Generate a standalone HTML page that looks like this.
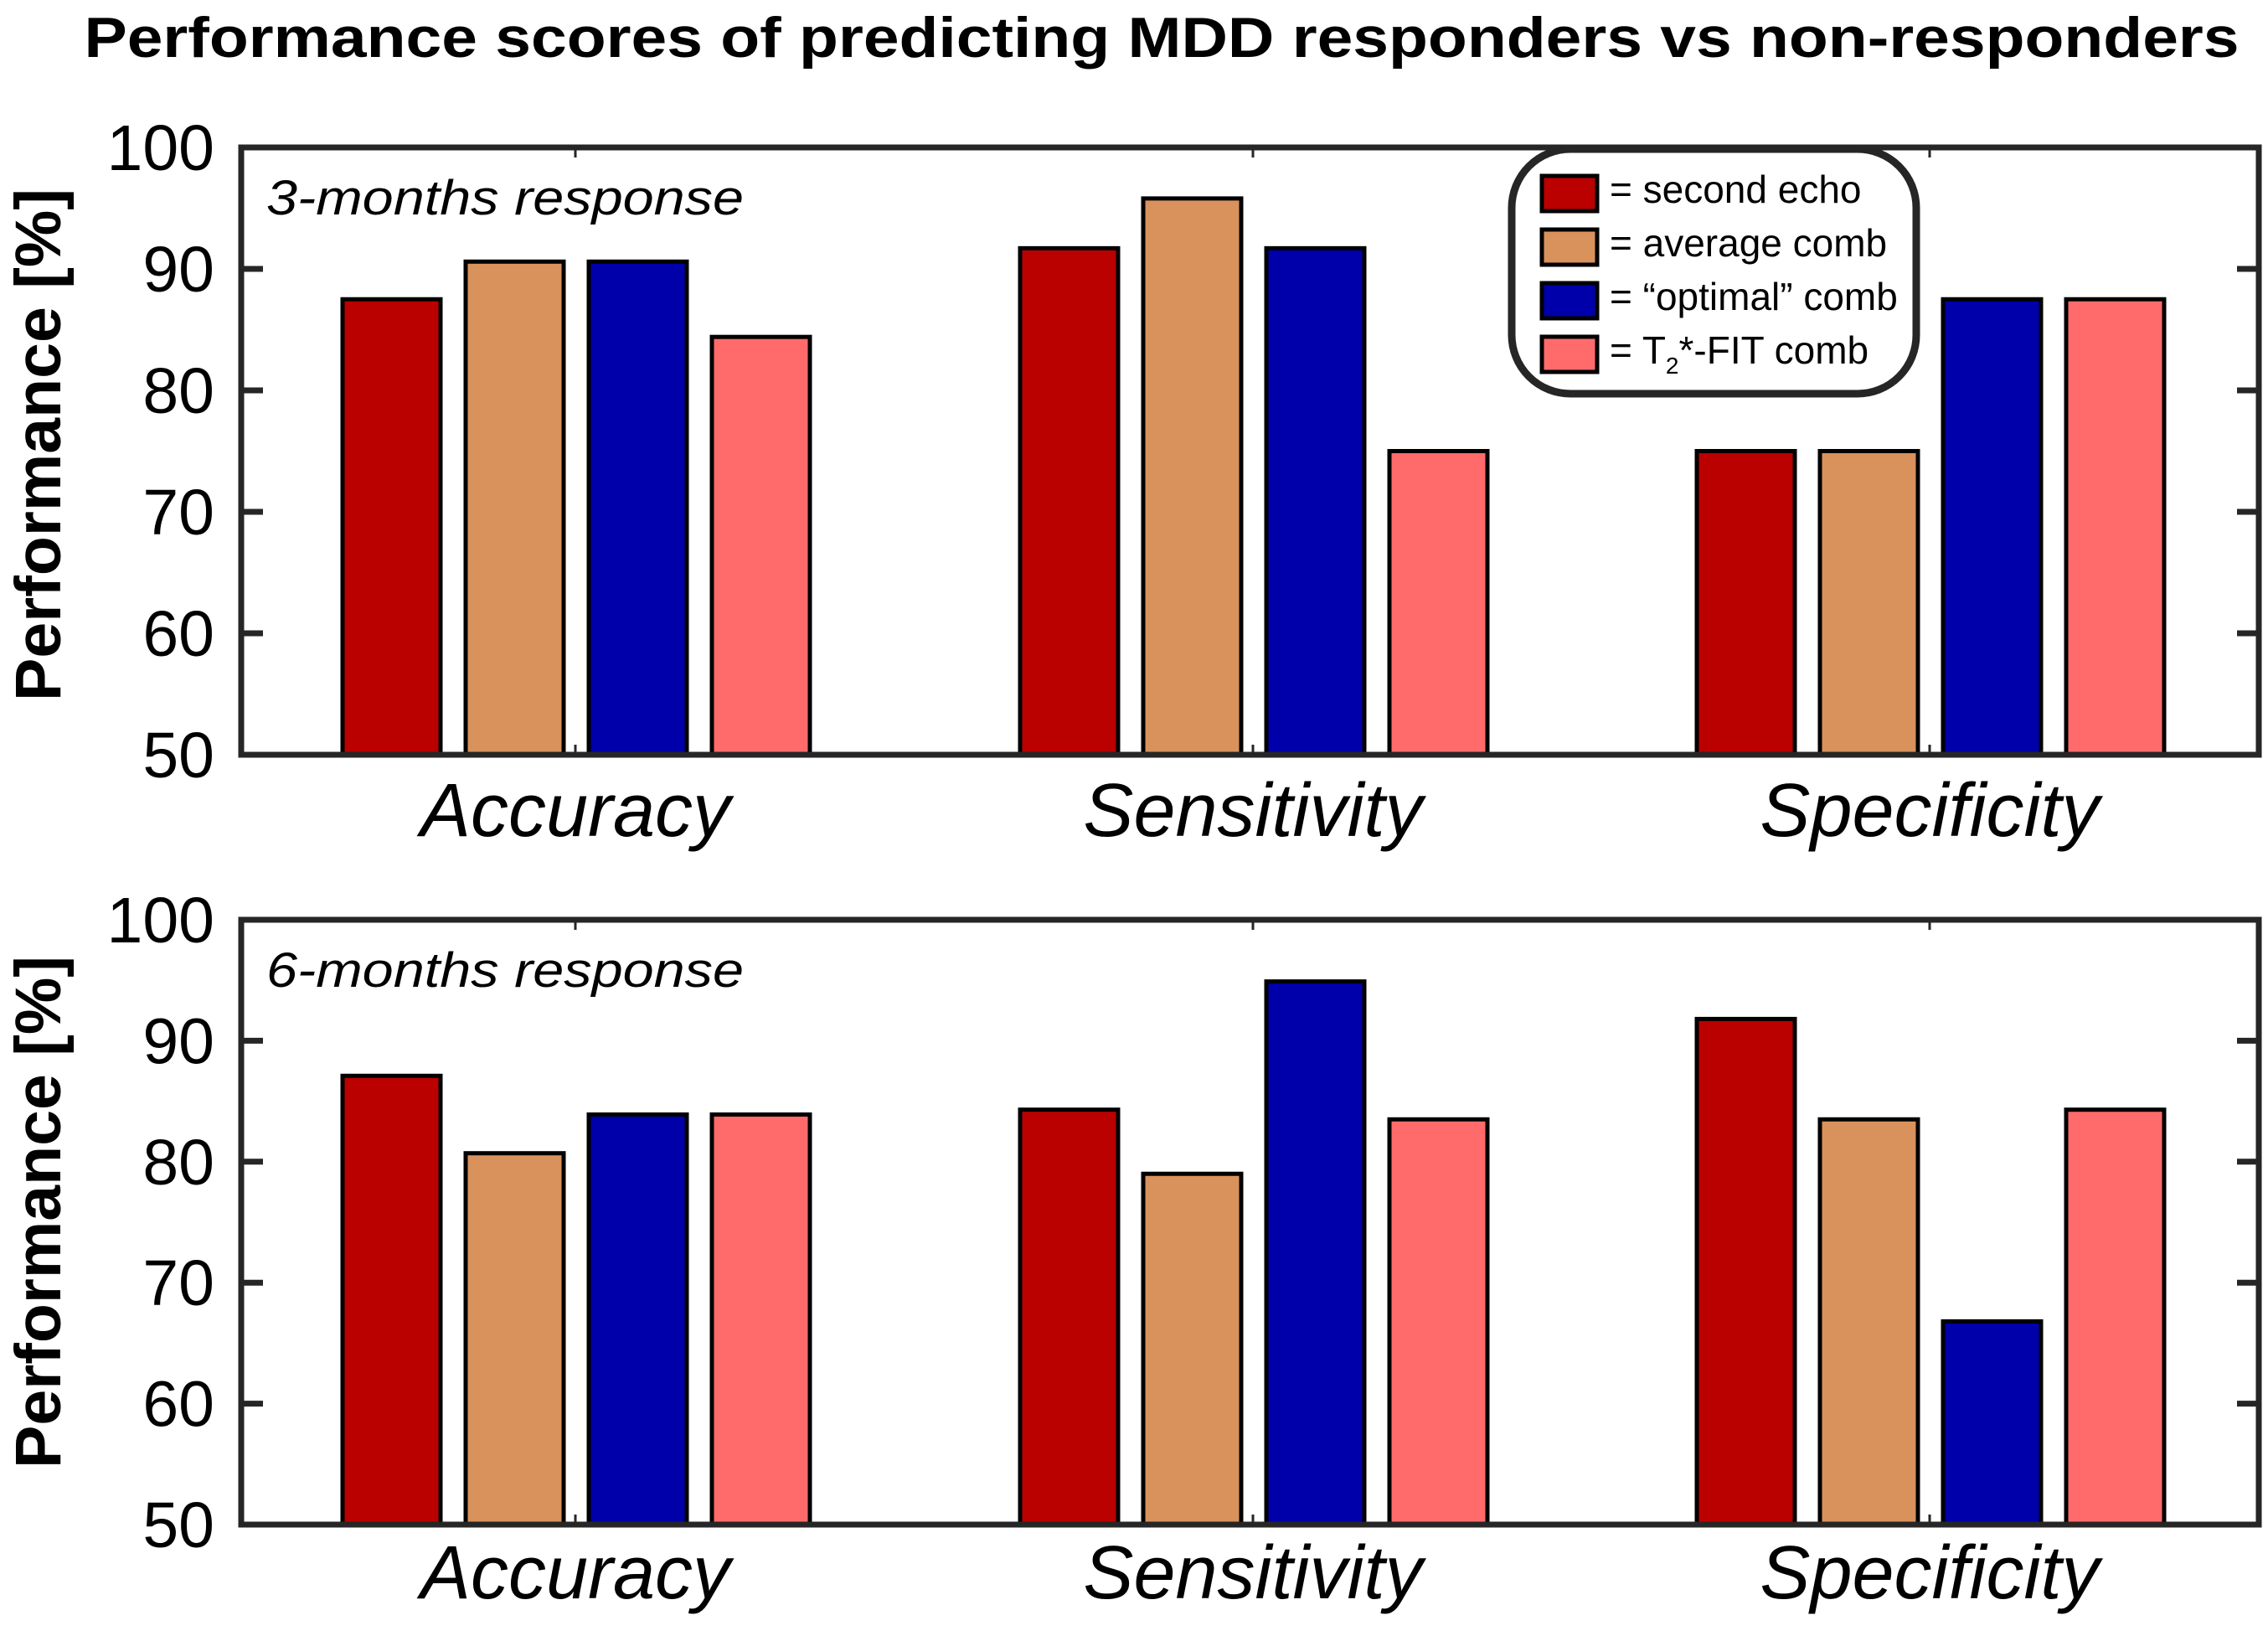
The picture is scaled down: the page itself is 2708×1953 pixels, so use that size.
<!DOCTYPE html>
<html><head><meta charset="utf-8"><style>
html,body{margin:0;padding:0;background:#fff;}
svg{display:block;font-family:"Liberation Sans",sans-serif;}
</style></head><body>
<svg id="chart" width="2708" height="1953" viewBox="0 0 2708 1953" xmlns="http://www.w3.org/2000/svg">
<text x="1387" y="68" text-anchor="middle" font-weight="bold" font-size="68" textLength="2573" lengthAdjust="spacingAndGlyphs">Performance scores of predicting MDD responders vs non-responders</text>
<g id="plots"></g>
</svg>
<script>
const categories = ["Accuracy", "Sensitivity", "Specificity"];
const seriesNames = ["second echo", "average comb", "“optimal” comb", "T2*-FIT comb"];
const seriesColors = ["#bb0000", "#d9925c", "#0000aa", "#ff6b6b"];
const values3m_second = [87.5, 91.7, 75.0];
const values3m_average = [90.6, 95.8, 75.0];
const values3m_optimal = [90.6, 91.7, 87.5];
const values3m_t2fit = [84.4, 75.0, 87.5];
const values6m_second = [87.1, 84.3, 91.8];
const values6m_average = [80.7, 79.0, 83.5];
const values6m_optimal = [83.9, 94.9, 66.8];
const values6m_t2fit = [83.9, 83.5, 84.3];
const yTicks = [50, 60, 70, 80, 90, 100];
const panelTitles = ["3-months response", "6-months response"];

const NS = "http://www.w3.org/2000/svg";
const root = document.getElementById("plots");
function mk(tag, attrs, parent) {
  const e = document.createElementNS(NS, tag);
  for (const k in attrs) e.setAttribute(k, attrs[k]);
  (parent || root).appendChild(e);
  return e;
}
const xLeft = 288, xRight = 2697;
const groupCenters = [687, 1496, 2304];
const barW = 117, pitch = 147;
function xBar(ci, si) { return groupCenters[ci] - 278 + si * pitch; }

const panels = [
  {top: 176, y50: 901, series: [values3m_second, values3m_average, values3m_optimal, values3m_t2fit], labelY: 998, ylabY: 531},
  {top: 1098, y50: 1820, series: [values6m_second, values6m_average, values6m_optimal, values6m_t2fit], labelY: 1908, ylabY: 1447}
];

panels.forEach((p, pi) => {
  const g = mk("g", {});
  
  
  const yScale = v => p.y50 - (v - 50) / 50 * (p.y50 - p.top);
  p.series.forEach((vals, si) => {
    vals.forEach((v, ci) => {
      const r = mk("rect", {x: xBar(ci, si), y: yScale(v), width: barW, height: p.y50 - yScale(v), fill: seriesColors[si], stroke: "#000", "stroke-width": 5}, g);
      
      
    });
  });
  const box = mk("rect", {x: xLeft, y: p.top, width: xRight - xLeft, height: p.y50 - p.top, fill: "none", stroke: "#262626", "stroke-width": 7}, g);
  
  
  yTicks.forEach(t => {
    const y = yScale(t);
    mk("line", {x1: xLeft, x2: xLeft + 26, y1: y, y2: y, stroke: "#262626", "stroke-width": 7}, g);
    mk("line", {x1: xRight, x2: xRight - 26, y1: y, y2: y, stroke: "#262626", "stroke-width": 7}, g);
    const tl = mk("text", {x: 256, y: y + 27, "text-anchor": "end", "font-size": 77}, g);
    tl.textContent = t;
    
    
  });
  categories.forEach((c, ci) => {
    mk("line", {x1: groupCenters[ci], x2: groupCenters[ci], y1: p.y50, y2: p.y50 - 12, stroke: "#262626", "stroke-width": 3}, g);
    mk("line", {x1: groupCenters[ci], x2: groupCenters[ci], y1: p.top, y2: p.top + 12, stroke: "#262626", "stroke-width": 3}, g);
    const cl = mk("text", {x: groupCenters[ci], y: p.labelY, "text-anchor": "middle", "font-size": 90, "font-style": "italic"}, g);
    cl.textContent = c;
    
    
  });
  const pt = mk("text", {x: 318, y: p.top + 80, "font-size": 58, "font-style": "italic", textLength: 570, lengthAdjust: "spacingAndGlyphs"}, g);
  pt.textContent = panelTitles[pi];
  
  
  const yl = mk("text", {x: 0, y: 0, "text-anchor": "middle", "font-size": 77, "font-weight": "bold", transform: "translate(72," + p.ylabY + ") rotate(-90)"}, g);
  yl.textContent = "Performance [%]";
  
  
});

const lg = mk("g", {});


mk("rect", {x: 1805, y: 178, width: 483, height: 292, rx: 70, ry: 70, fill: "#fff", stroke: "#262626", "stroke-width": 9}, lg);
seriesNames.forEach((n, i) => {
  const sw = mk("rect", {x: 1841, y: 210 + i * 64, width: 66, height: 42, fill: seriesColors[i], stroke: "#000", "stroke-width": 5}, lg);
  
  
  const t = mk("text", {x: 1922, y: 242 + i * 64, "font-size": 46}, lg);
  
  
  if (i === 3) {
    t.appendChild(document.createTextNode("= T"));
    const s = mk("tspan", {"font-size": 28, dy: 12}, t); s.textContent = "2";
    const r = mk("tspan", {dy: -12}, t); r.textContent = "*-FIT comb";
  } else {
    t.textContent = "= " + n;
  }
});
</script>
</body></html>
